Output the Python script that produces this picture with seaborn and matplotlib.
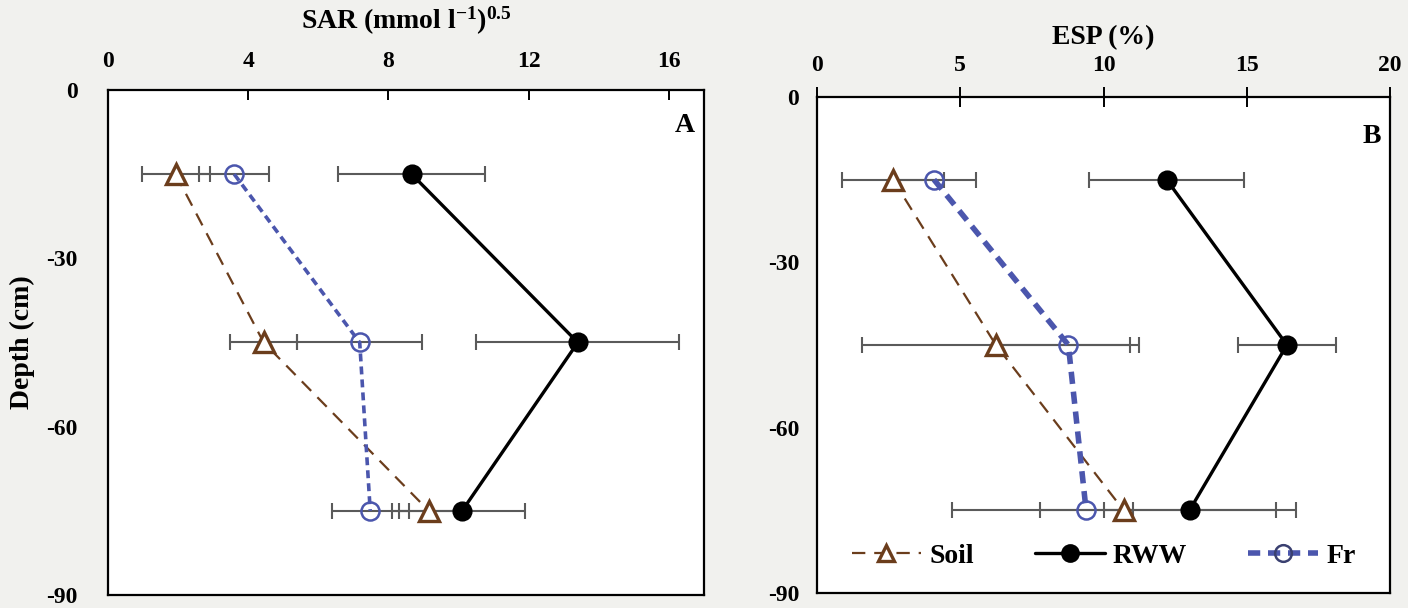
import matplotlib
matplotlib.use("Agg")
import matplotlib.pyplot as plt
import seaborn as sns
import pandas as pd
from matplotlib.lines import Line2D

# ---------------- data ----------------
depth = [-15, -45, -75]

sar_soil = [1.93, 4.44, 9.15]
sar_soil_err = [0.97, 0.95, 1.05]
sar_rww = [8.66, 13.4, 10.1]
sar_rww_err = [2.1, 2.9, 1.8]
sar_fr = [3.6, 7.18, 7.48]
sar_fr_err = [1.0, 1.78, 1.1]

esp_soil = [2.65, 6.24, 10.7]
esp_soil_err = [1.78, 4.68, 6.0]
esp_rww = [12.2, 16.4, 13.0]
esp_rww_err = [2.7, 1.7, 3.0]
esp_fr = [4.08, 8.77, 9.39]
esp_fr_err = [1.47, 2.46, 1.62]

series_names = ["Soil", "RWW", "Fr"]
sar_ticks = [0, 4, 8, 12, 16]
esp_ticks = [0, 5, 10, 15, 20]
depth_ticks = [0, -30, -60, -90]

# ---------------- style ----------------
sns.set_theme(style="white")
plt.rcParams["font.family"] = ["Liberation Serif", "DejaVu Serif"]
plt.rcParams["font.weight"] = "bold"
plt.rcParams["text.color"] = "black"
plt.rcParams["axes.labelcolor"] = "black"
plt.rcParams["xtick.color"] = "black"
plt.rcParams["ytick.color"] = "black"
plt.rcParams["mathtext.fontset"] = "custom"
plt.rcParams["mathtext.rm"] = "Liberation Serif:bold"
plt.rcParams["mathtext.bf"] = "Liberation Serif:bold"
plt.rcParams["mathtext.it"] = "Liberation Serif:bold"

BROWN = "#6b3d1c"
BLUE = "#4b56ad"
BLACK = "#000000"
ERRC = "#5a5a5a"

styles = {
    "Soil": dict(color=BROWN, marker="^", ms=14, mfc="white", mec=BROWN, mew=2.4,
                 ls=(0, (6, 4)), lw=1.6),
    "RWW": dict(color=BLACK, marker="o", ms=13, mfc=BLACK, mec=BLACK, mew=1.5,
                ls="-", lw=2.4),
    "Fr": dict(color=BLUE, marker="o", ms=13, mfc="none", mec=BLUE, mew=1.8,
               ls=(0, (2.2, 1.4)), lw=2.6),
}

fig = plt.figure(figsize=(14.08, 6.08), dpi=100)
fig.patch.set_facecolor("#f1f1ee")

axA = fig.add_axes([0.0767, 0.0214, 0.4233, 0.8306])
axB = fig.add_axes([0.5803, 0.0247, 0.4070, 0.8158])


def draw_panel(ax, vals, errs, fr_lw):
    for name, v, e in zip(series_names, vals, errs):
        ax.errorbar(v, depth, xerr=e, fmt="none", ecolor=ERRC, elinewidth=1.5,
                    capsize=6, capthick=1.5, zorder=2)
    for name, v in zip(series_names, vals):
        df = pd.DataFrame({"val": v, "depth": depth})
        st = dict(styles[name])
        if name == "Fr":
            st["lw"] = fr_lw
        sns.lineplot(data=df, x="val", y="depth", orient="y", sort=False, ax=ax,
                     color=st["color"], marker=st["marker"], markersize=st["ms"],
                     markerfacecolor=st["mfc"], markeredgecolor=st["mec"],
                     markeredgewidth=st["mew"], linestyle=st["ls"], linewidth=st["lw"],
                     zorder=3)
    ax.set_facecolor("white")
    ax.set_ylim(-90, 0)
    ax.set_yticks(depth_ticks)
    ax.xaxis.set_ticks_position("top")
    ax.xaxis.set_label_position("top")
    for s in ax.spines.values():
        s.set_visible(True)
        s.set_color("black")
        s.set_linewidth(1.6)
    ax.set_xlabel("")
    ax.set_ylabel("")


TICK_FS = 17

draw_panel(axA, [sar_soil, sar_rww, sar_fr], [sar_soil_err, sar_rww_err, sar_fr_err], 2.6)
axA.set_xlim(0, 17)
axA.set_xticks(sar_ticks)
axA.set_xticklabels([str(t) for t in sar_ticks], fontsize=TICK_FS, fontweight="bold")
axA.set_yticklabels([str(t) for t in depth_ticks], fontsize=TICK_FS, fontweight="bold")
axA.tick_params(axis="x", direction="in", length=7, width=1.4, pad=13, colors="black")
axA.tick_params(axis="y", length=0, pad=22, colors="black")
axA.set_title("SAR (mmol l$^{\\mathrm{-1}}$)$^{\\mathrm{0.5}}$", fontsize=20,
              fontweight="bold", pad=44)
axA.set_ylabel("Depth (cm)", fontsize=20, fontweight="bold", labelpad=8)
axA.text(0.985, 0.955, "A", transform=axA.transAxes, ha="right", va="top",
         fontsize=20, fontweight="bold")

draw_panel(axB, [esp_soil, esp_rww, esp_fr], [esp_soil_err, esp_rww_err, esp_fr_err], 4.0)
axB.set_xlim(0, 20)
axB.set_xticks(esp_ticks)
axB.set_xticklabels([str(t) for t in esp_ticks], fontsize=TICK_FS, fontweight="bold")
axB.set_yticklabels([str(t) for t in depth_ticks], fontsize=TICK_FS, fontweight="bold")
axB.tick_params(axis="x", direction="inout", length=14, width=1.4, pad=8, colors="black")
axB.tick_params(axis="y", direction="inout", length=14, width=1.4, pad=6, colors="black")
axB.set_title("ESP (%)", fontsize=20, fontweight="bold", pad=38)
axB.text(0.985, 0.945, "B", transform=axB.transAxes, ha="right", va="top",
         fontsize=20, fontweight="bold")

handles = []
for name in series_names:
    st = styles[name]
    lw = 4.0 if name == "Fr" else st["lw"]
    handles.append(Line2D([0], [0], color=st["color"], marker=st["marker"],
                          markersize=12, markerfacecolor=st["mfc"],
                          markeredgecolor=st["mec"] if name != "Fr" else "#3a4070",
                          markeredgewidth=st["mew"], linestyle=st["ls"], linewidth=lw))
axB.legend(handles, series_names, loc="center", bbox_to_anchor=(0.5, 0.075), ncol=3,
           frameon=False, handlelength=2.5, columnspacing=2.2, handletextpad=0.3,
           prop={"size": 20, "weight": "bold"})

fig.savefig("out.png", dpi=100, facecolor=fig.get_facecolor())
